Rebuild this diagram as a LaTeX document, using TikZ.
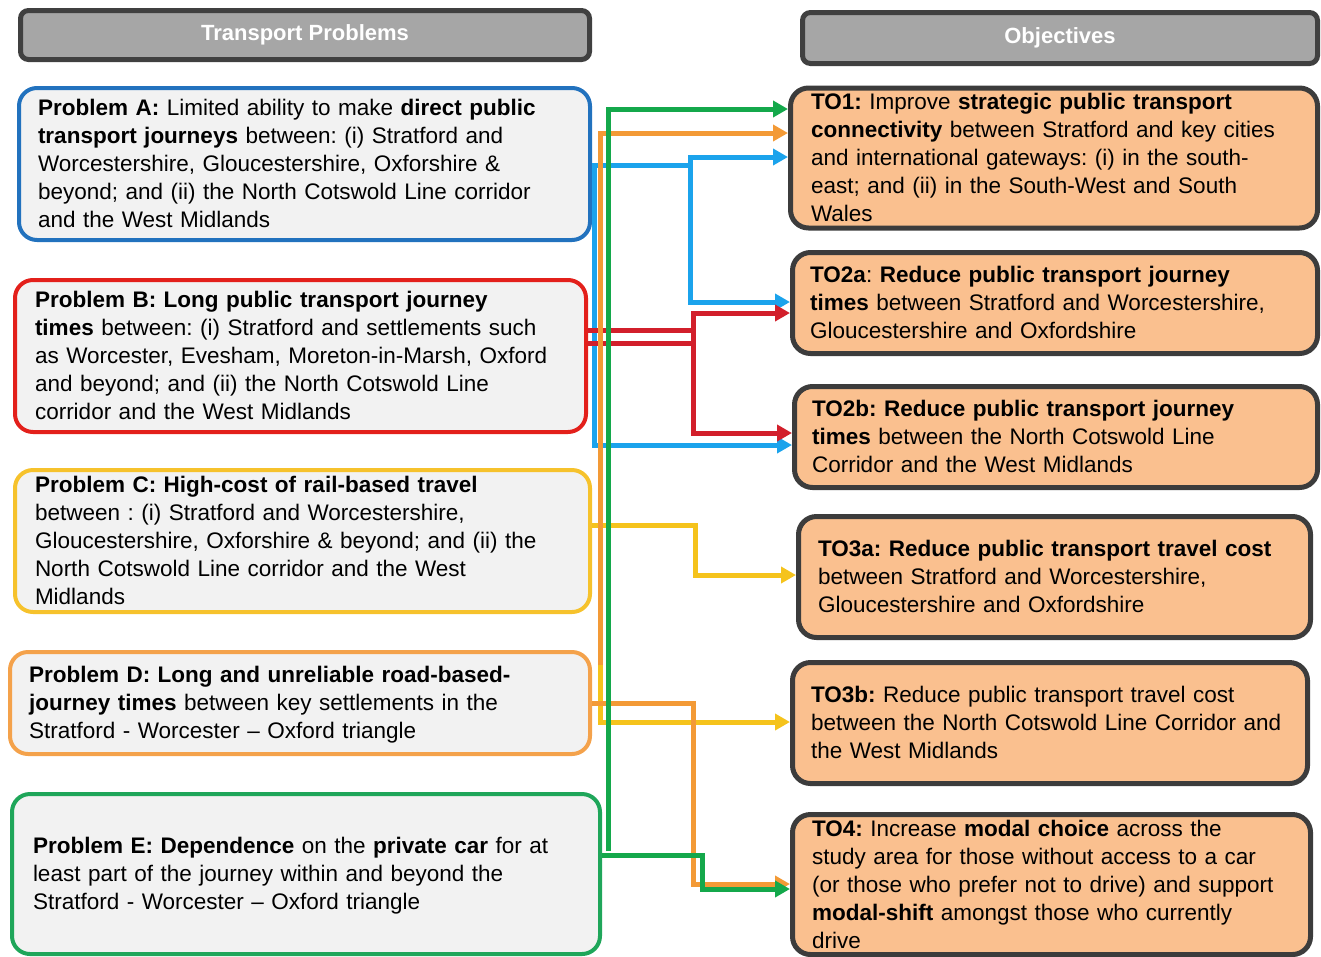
\documentclass[tikz,border=0pt]{standalone}
\usepackage{fontspec}
\setmainfont{Liberation Sans}
\usetikzlibrary{arrows.meta}
\frenchspacing

\definecolor{hdrfill}{HTML}{A6A6A6}
\definecolor{hdrline}{HTML}{404040}
\definecolor{pfill}{HTML}{F2F2F2}
\definecolor{ofill}{HTML}{FAC08F}
\definecolor{oline}{HTML}{3C3C3C}
\definecolor{bdblue}{HTML}{2272BE}
\definecolor{bdred}{HTML}{E3201B}
\definecolor{bdyellow}{HTML}{F6C22C}
\definecolor{bdorange}{HTML}{F4A24B}
\definecolor{bdgreen}{HTML}{1FA65A}
\definecolor{lnblue}{HTML}{1BA3EC}
\definecolor{lnred}{HTML}{D21F2B}
\definecolor{lnyellow}{HTML}{F5C31C}
\definecolor{lnorange}{HTML}{F39A36}
\definecolor{lngreen}{HTML}{14A84B}

% multi-line box text, set a little lower without changing its size
\newcommand{\boxlines}[1]{\raisebox{-2pt}[\height][\depth]{\begin{tabular}{@{}l@{}}#1\end{tabular}}}

\tikzset{
  header/.style={draw=hdrline, fill=hdrfill, line width=5pt, rounded corners=8pt,
    text=white, font=\fontsize{22}{26}\selectfont\bfseries, inner sep=0pt},
  probbox/.style={line width=4pt, rounded corners=18pt, fill=pfill, align=left,
    inner ysep=0pt, font=\fontsize{22.5}{28}\selectfont},
  objbox/.style={draw=oline, line width=5pt, rounded corners=18pt, fill=ofill, align=left,
    inner ysep=0pt, font=\fontsize{22.5}{28}\selectfont},
  conn/.style={line width=5pt, -{Triangle[length=15pt,width=16pt]}},
  link/.style={line width=5pt},
}

\begin{document}
\begin{tikzpicture}[x=1pt,y=-1pt]
\useasboundingbox (0,0) rectangle (1321,956);

% column headers
\node[header, minimum width=569, minimum height=49] (hLeft) at (305,35) {\raisebox{-2pt}{Transport Problems}};
\node[header, minimum width=515, minimum height=51] (hRight) at (1060,38) {\raisebox{-2pt}{Objectives}};

% problem boxes
\node[probbox, draw=bdblue, minimum width=571, minimum height=152, text width=533, inner xsep=19] (pA) at (304.5,164)
 {\boxlines{\textbf{Problem A:} Limited ability to make \textbf{direct public}\\
  \textbf{transport journeys} between: (i) Stratford and\\
  Worcestershire, Gloucestershire, Oxforshire \&\\
  beyond; and (ii) the North Cotswold Line corridor\\
  and the West Midlands}};

\node[probbox, draw=bdred, minimum width=571, minimum height=152, text width=531, inner xsep=20] (pB) at (300.5,356)
 {\boxlines{\textbf{Problem B: Long public transport journey}\\
  \textbf{times} between: (i) Stratford and settlements such\\
  as Worcester, Evesham, Moreton-in-Marsh, Oxford\\
  and beyond; and (ii) the North Cotswold Line\\
  corridor and the West Midlands}};

\node[probbox, draw=bdyellow, minimum width=575, minimum height=142, text width=535, inner xsep=20] (pC) at (302.5,541)
 {\boxlines{\textbf{Problem C: High-cost of rail-based travel}\\
  between : (i) Stratford and Worcestershire,\\
  Gloucestershire, Oxforshire \& beyond; and (ii) the\\
  North Cotswold Line corridor and the West\\
  Midlands}};

\node[probbox, draw=bdorange, minimum width=580, minimum height=102, text width=542, inner xsep=19] (pD) at (300,703)
 {\boxlines{\textbf{Problem D: Long and unreliable road-based-}\\
  \textbf{journey times} between key settlements in the\\
  Stratford - Worcester -- Oxford triangle}};

\node[probbox, draw=bdgreen, minimum width=588, minimum height=160, text width=546, inner xsep=21] (pE) at (306,874)
 {\boxlines{\textbf{Problem E: Dependence} on the \textbf{private car} for at\\
  least part of the journey within and beyond the\\
  Stratford - Worcester -- Oxford triangle}};

% objective boxes
\node[objbox, minimum width=527, minimum height=135, text width=486, inner xsep=20.5] (tTO1) at (1054,158)
 {\boxlines{\textbf{TO1:} Improve \textbf{strategic public transport}\\
  \textbf{connectivity} between Stratford and key cities\\
  and international gateways: (i) in the south-\\
  east; and (ii) in the South-West and South\\
  Wales}};

\node[objbox, minimum width=525, minimum height=101, text width=490, inner xsep=17.5] (tTO2a) at (1055,303)
 {\boxlines{\textbf{TO2a}: \textbf{Reduce public transport journey}\\
  \textbf{times} between Stratford and Worcestershire,\\
  Gloucestershire and Oxfordshire}};

\node[objbox, minimum width=523, minimum height=101, text width=488, inner xsep=17.5] (tTO2b) at (1056,437)
 {\boxlines{\textbf{TO2b: Reduce public transport journey}\\
  \textbf{times} between the North Cotswold Line\\
  Corridor and the West Midlands}};

\node[objbox, minimum width=512, minimum height=121, text width=473, inner xsep=19.5] (tTO3a) at (1054.5,577)
 {\boxlines{\textbf{TO3a: Reduce public transport travel cost}\\
  between Stratford and Worcestershire,\\
  Gloucestershire and Oxfordshire}};

\node[objbox, minimum width=515, minimum height=121, text width=478, inner xsep=18.5] (tTO3b) at (1050,723)
 {\boxlines{\textbf{TO3b:} Reduce public transport travel cost\\
  between the North Cotswold Line Corridor and\\
  the West Midlands}};

\node[objbox, minimum width=518, minimum height=139, text width=479, inner xsep=19.5] (tTO4) at (1051.5,884.5)
 {\boxlines{\textbf{TO4:} Increase \textbf{modal choice} across the\\
  study area for those without access to a car\\
  (or those who prefer not to drive) and support\\
  \textbf{modal-shift} amongst those who currently\\
  drive}};

% Problem A -> TO1, TO2a, TO2b
\draw[conn, lnblue] (pA.east |- 0,165) -| (690,157) -- (tTO1.west |- 0,157);
\draw[conn, lnblue] (690,165) |- (tTO2a.west |- 0,302);
\draw[conn, lnblue] (594,165) |- (tTO2b.west |- 0,445);

% Problem B -> TO2a, TO2b
\draw[link, lnred] (pB.east |- 0,330) -- (695,330);
\draw[link, lnred] (pB.east |- 0,343) -- (695,343);
\draw[conn, lnred] (693,343) |- (tTO2a.west |- 0,313);
\draw[conn, lnred] (693,330) |- (tTO2b.west |- 0,433);

% Problem C -> TO3a, TO3b
\draw[conn, lnyellow] (pC.east |- 0,525) -| (695,575) -- (tTO3a.west |- 0,575);
\draw[conn, lnyellow] (600,525) |- (tTO3b.west |- 0,722);

% Problem D -> TO1, TO4
\draw[conn, lnorange] (pD.east |- 0,703) -| (693,884) -- (tTO4.west |- 0,884);
\draw[conn, lnorange] (600,665) |- (tTO1.west |- 0,133);

% Problem E -> TO1, TO4
\draw[conn, lngreen] (pE.east |- 0,855) -- (702,855) |- (tTO4.west |- 0,889);
\draw[conn, lngreen] (608,851) |- (tTO1.west |- 0,109);
\end{tikzpicture}
\end{document}
